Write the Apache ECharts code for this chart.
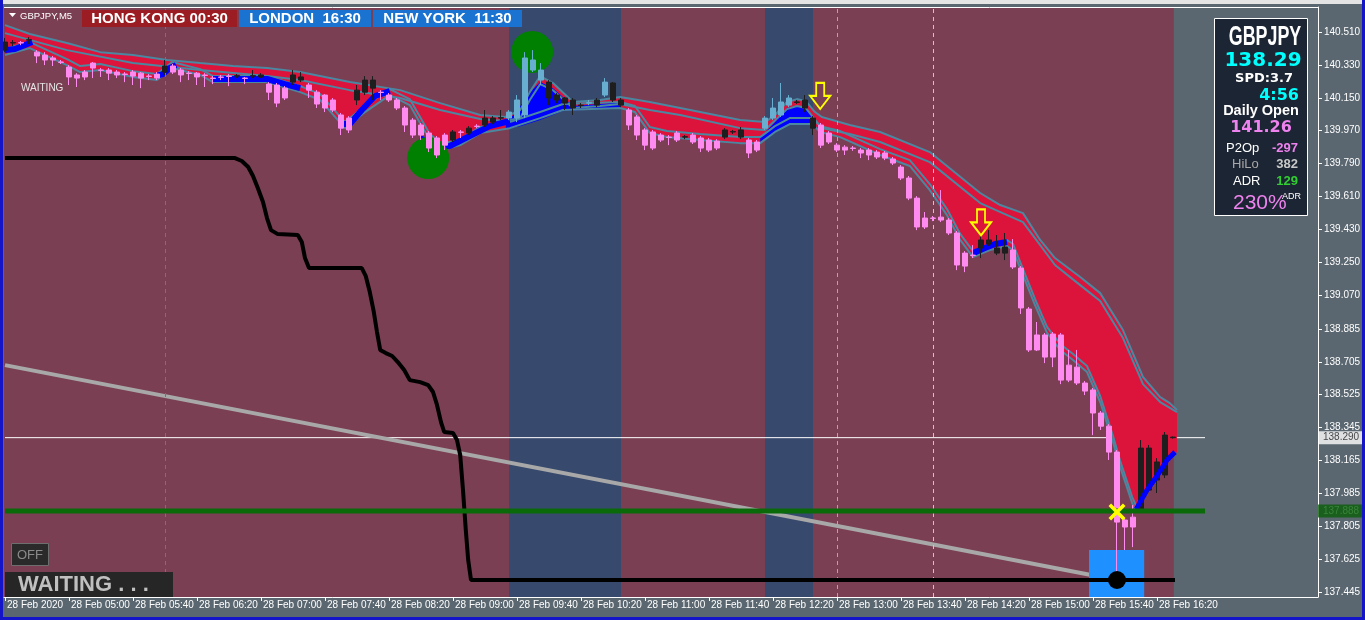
<!DOCTYPE html>
<html><head><meta charset="utf-8">
<script src="https://cdn.jsdelivr.net/npm/echarts@6/dist/echarts.min.js"></script>
<style>html,body{margin:0;padding:0;background:#5B6770;overflow:hidden}#c{width:1365px;height:620px}</style>
</head><body><div id="c"></div>
<script>
// ---------- DATA (x = bar index of 5-minute bars starting 28 Feb 04:20, y = price) ----------
const xTickBars = [0,8,16,24,32,40,48,56,64,72,80,88,96,104,112,120,128,136,144];
const xTickLabels = ['28 Feb 2020','28 Feb 05:00','28 Feb 05:40','28 Feb 06:20','28 Feb 07:00','28 Feb 07:40','28 Feb 08:20','28 Feb 09:00','28 Feb 09:40','28 Feb 10:20','28 Feb 11:00','28 Feb 11:40','28 Feb 12:20','28 Feb 13:00','28 Feb 13:40','28 Feb 14:20','28 Feb 15:00','28 Feb 15:40','28 Feb 16:20'];
const yTickValues = [140.510,140.330,140.150,139.970,139.790,139.610,139.430,139.250,139.070,138.885,138.705,138.525,138.345,138.165,137.985,137.805,137.625,137.445];

// [bar, open, close, low, high]
const candles = [
[0,140.411,140.455,140.400,140.477],[1,140.450,140.452,140.433,140.466],[2,140.452,140.450,140.438,140.461],[3,140.466,140.468,140.444,140.482],
[4,140.400,140.379,140.340,140.411],[5,140.384,140.357,140.329,140.400],[6,140.368,140.357,140.324,140.379],[7,140.346,140.344,140.335,140.357],
[8,140.318,140.264,140.220,140.329],[9,140.275,140.258,140.209,140.285],[10,140.291,140.264,140.247,140.302],[11,140.340,140.313,140.258,140.346],
[12,140.302,140.300,140.264,140.313],[13,140.302,140.285,140.247,140.313],[14,140.291,140.275,140.258,140.302],[15,140.280,140.278,140.236,140.291],
[16,140.291,140.269,140.220,140.302],[17,140.285,140.258,140.203,140.291],[18,140.269,140.267,140.247,140.280],[19,140.280,140.258,140.247,140.291],
[20,140.291,140.324,140.275,140.357],[21,140.324,140.291,140.280,140.335],[22,140.302,140.275,140.236,140.313],[23,140.285,140.283,140.247,140.296],
[24,140.285,140.264,140.220,140.291],[25,140.275,140.272,140.209,140.285],[26,140.258,140.256,140.225,140.269],[27,140.264,140.262,140.247,140.275],
[28,140.269,140.267,140.214,140.280],[29,140.269,140.271,140.258,140.280],[30,140.258,140.256,140.225,140.264],[31,140.269,140.271,140.258,140.302],
[32,140.264,140.275,140.258,140.285],[33,140.225,140.181,140.138,140.236],[34,140.220,140.121,140.099,140.231],[35,140.203,140.149,140.138,140.214],
[36,140.236,140.275,140.220,140.302],[37,140.247,140.264,140.236,140.291],[38,140.220,140.192,140.149,140.231],[39,140.181,140.116,140.094,140.192],
[40,140.165,140.094,140.072,140.170],[41,140.138,140.083,140.072,140.149],[42,140.056,139.984,139.946,140.067],[43,140.039,139.974,139.957,140.050],
[44,140.138,140.192,140.110,140.220],[45,140.181,140.247,140.165,140.269],[46,140.203,140.247,140.138,140.269],[47,140.181,140.179,140.138,140.192],
[48,140.165,140.138,140.127,140.176],[49,140.138,140.094,140.083,140.149],[50,140.094,140.001,139.963,140.105],[51,140.028,139.946,139.930,140.039],
[52,140.001,139.946,139.919,140.012],[53,139.957,139.875,139.853,139.968],[54,139.930,139.837,139.820,139.941],[55,139.946,139.891,139.864,139.957],
[56,139.919,139.963,139.908,139.974],[57,139.963,139.961,139.930,139.974],[58,139.957,139.984,139.946,139.995],[59,139.995,139.993,139.984,140.006],
[60,140.001,140.039,139.990,140.083],[61,140.017,140.039,140.006,140.050],[62,140.039,140.041,140.028,140.083],[63,140.039,140.072,140.028,140.083],
[64,140.039,140.138,140.017,140.165],[65,140.056,140.368,140.039,140.400],[66,140.302,140.357,140.291,140.411],[67,140.247,140.302,140.220,140.340],
[68,140.236,140.149,140.110,140.247],[69,140.165,140.138,140.121,140.176],[70,140.149,140.121,140.083,140.154],[71,140.138,140.094,140.056,140.149],
[72,140.110,140.108,140.094,140.121],[73,140.121,140.123,140.110,140.138],[74,140.138,140.110,140.099,140.149],[75,140.165,140.236,140.154,140.258],
[76,140.231,140.138,140.127,140.236],[77,140.138,140.110,140.099,140.149],[78,140.083,140.001,139.974,140.094],[79,140.045,139.946,139.919,140.056],
[80,139.974,139.891,139.864,139.984],[81,139.963,139.875,139.864,139.974],[82,139.946,139.919,139.908,139.957],[83,139.935,139.933,139.891,139.946],
[84,139.957,139.919,139.908,139.968],[85,139.935,139.937,139.924,139.946],[86,139.946,139.908,139.897,139.957],[87,139.930,139.875,139.853,139.941],
[88,139.919,139.864,139.853,139.930],[89,139.913,139.875,139.864,139.924],[90,139.935,139.974,139.924,139.984],[91,139.963,139.965,139.952,139.974],
[92,139.935,139.974,139.924,139.990],[93,139.919,139.848,139.820,139.930],[94,139.908,139.864,139.853,139.919],[95,139.984,140.039,139.974,140.050],
[96,140.039,140.094,140.028,140.149],[97,140.056,140.127,140.045,140.231],[98,140.110,140.149,140.099,140.165],[99,140.127,140.125,140.116,140.138],
[100,140.138,140.094,140.072,140.165],[101,140.039,139.984,139.946,140.050],[102,140.001,139.891,139.875,140.012],[103,139.957,139.908,139.897,139.968],
[104,139.891,139.864,139.853,139.902],[105,139.880,139.864,139.837,139.891],[106,139.875,139.873,139.860,139.886],[107,139.864,139.848,139.820,139.875],
[108,139.864,139.837,139.809,139.875],[109,139.853,139.826,139.815,139.864],[110,139.848,139.820,139.809,139.859],[111,139.815,139.793,139.782,139.826],
[112,139.771,139.711,139.700,139.782],[113,139.711,139.601,139.590,139.722],[114,139.601,139.443,139.426,139.612],[115,139.492,139.443,139.432,139.525],
[116,139.492,139.490,139.475,139.503],[117,139.497,139.481,139.470,139.645],[118,139.481,139.410,139.399,139.492],[119,139.410,139.235,139.207,139.421],
[120,139.300,139.229,139.196,139.311],[121,139.289,139.287,139.273,139.344],[122,139.328,139.372,139.273,139.399],[123,139.350,139.372,139.339,139.426],
[124,139.300,139.328,139.289,139.399],[125,139.300,139.333,139.262,139.410],[126,139.317,139.224,139.213,139.377],[127,139.218,139.000,138.967,139.229],
[128,138.994,138.770,138.759,139.005],[129,138.852,138.770,138.764,138.923],[130,138.852,138.731,138.698,138.863],[131,138.857,138.731,138.676,138.868],
[132,138.852,138.605,138.583,138.863],[133,138.687,138.605,138.594,138.770],[134,138.676,138.589,138.578,138.770],[135,138.589,138.545,138.523,138.600],
[136,138.551,138.425,138.304,138.562],[137,138.425,138.353,138.332,138.436],[138,138.353,138.211,138.168,138.364],[139,138.211,137.828,137.530,138.222],
[140,137.839,137.801,137.675,137.850],[141,137.855,137.801,137.691,137.921],[142,137.894,138.233,137.883,138.277],[143,138.003,138.233,137.992,138.250],
[144,138.058,138.157,137.987,138.178],[145,138.086,138.304,138.069,138.321],[146,138.290,138.293,138.285,138.296]
];

// session boxes (bar ranges)
const maroonSession = [-0.125, 146.1];
const blueSessions = [[63, 77], [95, 101]];

// cloud: top steel line, second steel line, lower pair and final fast line
const cloudTop = [[0,140.548],[3.1,140.499],[7.75,140.450],[11.9,140.400],[16,140.384],[20.25,140.357],[24.4,140.340],[28.5,140.324],[32.75,140.313],[36.9,140.291],[43.1,140.236],[49.4,140.192],[54.4,140.121],[59.4,140.056],[62.5,140.045],[64.4,140.083],[65.6,140.181],[66.9,140.269],[68.5,140.231],[71,140.127],[74.4,140.138],[76.9,140.154],[80.6,140.127],[84.4,140.094],[91.9,140.028],[95,140.017],[96.25,140.056],[97.75,140.127],[99,140.143],[100.1,140.132],[101.25,140.072],[102.1,140.045],[105.6,140.001],[109.4,139.963],[115.6,139.853],[121.9,139.629],[124.4,139.563],[127.25,139.519],[129.4,139.372],[131.25,139.273],[134.4,139.169],[136.9,139.081],[139.75,138.879],[142.25,138.622],[144.4,138.512],[145.6,138.479],[146.5,138.441]];
const cloudTop2 = [[0,140.504],[7.75,140.411],[16,140.340],[24.4,140.302],[32.75,140.269],[36.9,140.247],[43.1,140.192],[49.4,140.149],[54.4,140.083],[59.4,140.034],[62.5,140.023],[64.4,140.039],[65.6,140.138],[66.9,140.225],[68.5,140.192],[71,140.094],[74.4,140.105],[76.9,140.116],[80.6,140.083],[84.4,140.056],[91.9,139.984],[95,139.974],[97.75,140.088],[99,140.105],[100.1,140.094],[102.1,139.984],[105.6,139.952],[109.4,139.908],[115.6,139.798],[121.9,139.574],[127.25,139.470],[131.25,139.235],[134.4,139.125],[136.9,139.038],[139.75,138.835],[142.25,138.583],[144.4,138.485],[146.5,138.430]];
const cloudLow1 = [[0,140.417],[3.1,140.455],[7.75,140.362],[9.4,140.324],[11.9,140.335],[16,140.296],[19,140.280],[20.9,140.346],[24.4,140.307],[26,140.269],[32.75,140.269],[36.9,140.214],[39.4,140.170],[42.5,140.017],[45,140.105],[48.1,140.198],[50.6,140.143],[53.1,139.952],[54.6,139.897],[56.9,139.924],[59.4,139.990],[63.1,140.017],[66.9,140.072],[69.75,140.116],[76.9,140.127],[78.75,140.105],[80.6,139.990],[82.75,139.968],[86.9,139.952],[91.9,139.935],[94.4,139.935],[96.25,139.995],[98.1,140.039],[100.9,140.039],[101.9,139.995],[104.4,139.968],[109.4,139.869],[113.1,139.809],[115.6,139.678],[117.75,139.541],[119.4,139.405],[121,139.311],[123.1,139.350],[125.25,139.372],[126,139.350],[127.25,139.213],[128.75,139.049],[130.25,138.896],[131.9,138.803],[133.5,138.748],[135.25,138.682],[136.9,138.518],[138.5,138.299],[139.4,138.162],[140.9,137.965],[141.4,137.916]];
const cloudLow2 = [[0,140.384],[3.1,140.422],[7.75,140.329],[9.4,140.291],[11.9,140.302],[16,140.264],[19,140.247],[20.9,140.313],[24.4,140.275],[26,140.236],[32.75,140.236],[36.9,140.181],[39.4,140.138],[42.5,139.984],[45,140.072],[48.1,140.165],[50.6,140.110],[53.1,139.919],[54.6,139.864],[56.9,139.891],[59.4,139.957],[63.1,139.984],[66.9,140.039],[69.75,140.083],[76.9,140.094],[78.75,140.072],[80.6,139.957],[82.75,139.935],[86.9,139.919],[91.9,139.902],[94.4,139.902],[96.25,139.963],[98.1,140.006],[100.9,140.006],[101.9,139.963],[104.4,139.935],[109.4,139.837],[113.1,139.777],[115.6,139.645],[117.75,139.508],[119.4,139.372],[121,139.278],[123.1,139.317],[125.25,139.339],[126,139.317],[127.25,139.180],[128.75,139.016],[130.25,138.863],[131.9,138.770],[133.5,138.715],[135.25,138.649],[136.9,138.485],[138.5,138.266],[139.4,138.129],[140.9,137.932],[141.4,137.883]];
const fastTail = [[141.4,137.883],[142.75,137.992],[144,138.064],[145.25,138.157],[146.5,138.211]];

// blue (bullish) fast-band pieces
const blueBands = [
  [[0,140.411],[1.25,140.417],[2.5,140.439],[3.4,140.455]],
  [[18.75,140.269],[19.75,140.280],[20.6,140.313],[21.4,140.329]],
  [[26,140.253],[32.75,140.253],[35,140.225],[36.9,140.203]],
  [[41.9,140.006],[43.1,140.006],[44.6,140.083],[46.25,140.160],[48.1,140.187]],
  [[51.9,139.930],[53.75,139.880],[55.6,139.886],[58.1,139.941],[60.6,139.995],[63.1,140.023]],
  [[121,139.300],[122.5,139.328],[123.75,139.350],[125.25,139.361]]
];
const blueTail = [[141.4,137.899],[142.75,138.003],[144,138.080],[145.25,138.168],[146.25,138.211]];
const blueZone1Top = [[62.6,140.028],[63.6,140.056],[64.6,140.116],[65.6,140.181],[66.9,140.236],[68.5,140.203],[71,140.105],[74.4,140.116],[76.9,140.127]];
const blueZone1Bot = [[62.6,139.979],[64.4,139.995],[66.9,140.028],[69.75,140.078],[76.9,140.094]];
const blueZone2Top = [[94.4,139.930],[96.25,140.017],[97.75,140.094],[99,140.105],[100.1,140.094],[101.1,140.039]];
const blueZone2Bot = [[94.4,139.908],[96.25,139.963],[98.1,140.006],[101.1,140.006]];

// other indicator lines
const stepLine = [[0,139.820],[28.75,139.820],[29.6,139.804],[30.4,139.771],[31,139.722],[31.6,139.656],[32.25,139.580],[32.75,139.492],[33.25,139.426],[34.1,139.404],[36.6,139.399],[37.1,139.361],[37.5,139.273],[38,139.218],[44.6,139.218],[45.1,139.174],[45.6,139.087],[46.1,138.978],[46.5,138.868],[46.9,138.770],[47.6,138.753],[48.4,138.737],[49.1,138.704],[49.9,138.660],[50.6,138.605],[51.9,138.594],[52.9,138.578],[53.5,138.540],[54,138.469],[54.5,138.375],[54.9,138.321],[56,138.315],[56.5,138.277],[56.9,138.195],[57.25,138.003],[57.6,137.784],[57.9,137.620],[58.25,137.511],[146.25,137.511]];
const grayTrend = [[0,138.687],[139,137.511]];
const bidPrice = 138.290;
const greenLevel = 137.888;
const levelEndBar = 150;
const verticalMarks = [20, 104, 116];
const greenCircles = [[65.9,140.401],[52.9,139.820]];
const sellArrows = [[101.9,140.160],[122,139.468]];
const crossMark = [[139,137.883]];
const signalDot = [[139,137.511]];
const signalBox = [135.5, 142.4, 137.418, 137.675];

// ---------- CHART ----------
const Y_MIN = 137.418, Y_MAX = 140.647;
const chart = echarts.init(document.getElementById('c'));
const FONT = "'Liberation Sans', Arial, sans-serif";

function isBlueBar(b){ return blueSessions.some(s => b >= s[0] && b <= s[1]); }
const candleItems = candles.map(d => {
  const bull = d[2] >= d[1];
  const col = isBlueBar(d[0]) ? (bull ? '#68AED0' : '#1E1E1E') : (bull ? '#1E1E1E' : '#FF8AF0');
  return {value: d, itemStyle: {color: col, color0: col, borderColor: col, borderColor0: col, borderWidth: 1}};
});

function polygonSeries(top, bottom, color, z) {
  return {
    type: 'custom', z, silent: true, clip: true,
    data: [[top[0][0], top[0][1]]], encode: {x: 0, y: 1},
    renderItem: function (params, api) {
      const pts = top.concat(bottom.slice().reverse()).map(p => api.coord(p));
      return {type: 'polygon', shape: {points: pts}, style: {fill: color}};
    }
  };
}
function lineSeries(data, color, width, z, extra) {
  return Object.assign({type: 'line', data, z, silent: true, showSymbol: false, symbol: 'none',
    lineStyle: {color, width}, clip: true}, extra || {});
}

const series = [
  {type: 'line', data: [], z: 1, silent: true,
   markArea: {silent: true, data: [
     [{xAxis: maroonSession[0], itemStyle: {color: '#7A3F52'}}, {xAxis: maroonSession[1]}],
     [{xAxis: blueSessions[0][0], itemStyle: {color: '#37496C'}}, {xAxis: blueSessions[0][1]}],
     [{xAxis: blueSessions[1][0], itemStyle: {color: '#37496C'}}, {xAxis: blueSessions[1][1]}]
   ]}},
  lineSeries([[0, bidPrice], [levelEndBar, bidPrice]], '#FFFFFF', 1, 2),
  lineSeries(grayTrend, '#A8A8A8', 4, 2),
  polygonSeries(cloudTop, cloudLow2.concat(fastTail.slice(1)), '#DC143C', 3),
  polygonSeries(blueZone1Top, blueZone1Bot, '#0000FF', 4),
  polygonSeries(blueZone2Top, blueZone2Bot, '#0000FF', 4),
  lineSeries(cloudTop, '#4B87A0', 2, 5),
  lineSeries(cloudTop2, '#4B87A0', 2, 5),
  lineSeries(cloudLow1, '#4B87A0', 2, 5),
  lineSeries(cloudLow2, '#4B87A0', 2, 5),
  ...blueBands.map(b => lineSeries(b, '#0000FF', 6, 5)),
  {type: 'line', data: [], z: 6, silent: true,
   markLine: {silent: true, symbol: 'none', z: 6, label: {show: false}, data: [
     {xAxis: verticalMarks[0], lineStyle: {color: '#2FA52F', type: [4, 4], width: 1}},
     {xAxis: verticalMarks[1], lineStyle: {color: '#E0A04A', type: [4, 4], width: 1}},
     {xAxis: verticalMarks[2], lineStyle: {color: '#E6B4D8', type: [4, 4], width: 1}}
   ]}},
  {type: 'scatter', data: greenCircles, z: 6, silent: true, symbol: 'circle', symbolSize: 42, itemStyle: {color: '#008000', opacity: 1}},
  {type: 'custom', z: 6, silent: true, clip: true, data: [[signalBox[0], signalBox[3]]], encode: {x: 0, y: 1},
   renderItem: function (params, api) {
     const a = api.coord([signalBox[0], signalBox[3]]), b = api.coord([signalBox[1], signalBox[2]]);
     return {type: 'rect', shape: {x: a[0], y: a[1], width: b[0] - a[0], height: b[1] - a[1]}, style: {fill: '#1E90FF'}};
   }},
  lineSeries(stepLine, '#000000', 4, 7),
  {type: 'candlestick', z: 8, silent: true, barWidth: 6, clip: true, data: candleItems},
  lineSeries(blueTail, '#0000FF', 5, 9),
  lineSeries([[0, greenLevel], [levelEndBar, greenLevel]], '#0A6A0A', 5, 10),
  {type: 'scatter', data: sellArrows, z: 11, silent: true,
   symbol: 'path://M6,0 L14,0 L14,13 L20,13 L10,26 L0,13 L6,13 Z', symbolSize: [20, 26],
   itemStyle: {color: 'rgba(0,0,0,0)', borderColor: '#FFFF00', borderWidth: 2, opacity: 1}},
  {type: 'scatter', data: crossMark, z: 11, silent: true,
   symbol: 'path://M0,3 L3,0 L10,7 L17,0 L20,3 L13,10 L20,17 L17,20 L10,13 L3,20 L0,17 L7,10 Z', symbolSize: 17,
   itemStyle: {color: '#FFFF00', opacity: 1}},
  {type: 'scatter', data: signalDot, z: 11, silent: true, symbol: 'circle', symbolSize: 18, itemStyle: {color: '#000000', opacity: 1}},
  {type: 'scatter', z: 12, silent: true, clip: false, symbolSize: 0, data: [[164.125, bidPrice]],
   label: {show: true, position: 'right', distance: 1, formatter: () => bidPrice.toFixed(3), backgroundColor: '#FFFFFF',
     color: '#1a1a1a', fontFamily: FONT, fontSize: 10, padding: [2, 5, 1, 4]}},
  {type: 'scatter', z: 12, silent: true, clip: false, symbolSize: 0, data: [[164.125, greenLevel]],
   label: {show: true, position: 'right', distance: 0, formatter: () => greenLevel.toFixed(3), backgroundColor: '#0B5E0B',
     color: '#3F8F3F', fontFamily: FONT, fontSize: 10, padding: [2, 5, 1, 5]}}
];

function txt(text, x, y, font, fill, align, extra) {
  return Object.assign({type: 'text', z: 100, silent: true, style: {text, x, y, font, fill, textAlign: align || 'left', textVerticalAlign: 'middle'}}, extra || {});
}
function box(x, y, w, h, fill, stroke) {
  return {type: 'rect', z: 99, silent: true, shape: {x, y, width: w, height: h},
    style: stroke ? {fill, stroke, lineWidth: 1} : {fill}};
}

const graphic = [
  box(0, 0, 1365, 4, '#E4E4E4'),
  {type: 'line', z: 99, silent: true, shape: {x1: 4, y1: 7.5, x2: 1318, y2: 7.5}, style: {stroke: '#FFFFFF', lineWidth: 1}},
  box(0, 0, 3, 620, '#1414C8'), box(1362, 0, 3, 620, '#1414C8'), box(0, 617, 1365, 3, '#1414C8'),
  {type: 'polygon', z: 100, silent: true, shape: {points: [[9, 13], [16, 13], [12.5, 17]]}, style: {fill: '#FFFFFF'}},
  txt('GBPJPY,M5', 20, 16, "9.5px " + FONT, '#FFFFFF'),
  box(82, 10, 155, 17, '#9B1C22'), txt('HONG KONG 00:30', 159.5, 18.5, "bold 15px " + FONT, '#FFFFFF', 'center'),
  box(239, 10, 132, 17, '#1A73D0'), txt('LONDON  16:30', 305, 18.5, "bold 15px " + FONT, '#FFFFFF', 'center'),
  box(373, 10, 149, 17, '#1A73D0'), txt('NEW YORK  11:30', 447.5, 18.5, "bold 15px " + FONT, '#FFFFFF', 'center'),
  txt('WAITING', 21, 88, "10px " + FONT, '#E6E6E6'),
  box(11.5, 543.5, 37, 22, '#2A2A2A', '#6E6E6E'), txt('OFF', 30, 555, "13px " + FONT, '#8A8A8A', 'center'),
  box(5, 572, 168, 25, '#262626'), txt('WAITING . . .', 18, 585, "bold 22px " + FONT, '#C0C0C0'),
  // info panel
  box(1214.5, 18.5, 93, 197, '#1C2533', '#FFFFFF'),
  {type: 'text', z: 100, silent: true, x: 1265, y: 38, scaleX: 0.66,
   style: {text: 'GBPJPY', x: 0, y: 0, font: "bold 27px " + FONT, fill: '#FFFFFF', textAlign: 'center', textVerticalAlign: 'middle'}},
  txt('138.29', 1263, 61, "bold 20px 'DejaVu Sans',sans-serif", '#00FFFF', 'center'),
  txt('SPD:3.7', 1264, 79, "bold 13px 'DejaVu Sans',sans-serif", '#FFFFFF', 'center'),
  txt('4:56', 1299, 96, "bold 16px 'DejaVu Sans',sans-serif", '#00FFFF', 'right'),
  txt('Daily Open', 1261, 110.5, "bold 14.5px " + FONT, '#FFFFFF', 'center'),
  txt('141.26', 1261, 128, "bold 16px 'DejaVu Sans',sans-serif", '#EE82EE', 'center'),
  txt('P2Op', 1226, 148, "13px " + FONT, '#FFFFFF'),
  txt('-297', 1298, 148, "bold 13px " + FONT, '#EE82EE', 'right'),
  txt('HiLo', 1232, 164.5, "13px " + FONT, '#A8A8A8'),
  txt('382', 1298, 164.5, "bold 13px " + FONT, '#C8C8C8', 'right'),
  txt('ADR', 1233, 181, "13px " + FONT, '#FFFFFF'),
  txt('129', 1298, 181, "bold 13px " + FONT, '#32CD32', 'right'),
  txt('230%', 1233, 203, "21px " + FONT, '#EE82EE'),
  txt('ADR', 1282, 197, "9px " + FONT, '#FFFFFF')
];

chart.setOption({
  animation: false,
  backgroundColor: '#5B6770',
  grid: {left: 4, right: 47, top: 7, bottom: 23, containLabel: false, outerBoundsMode: 'none', show: false},
  xAxis: {
    type: 'value', min: -0.125, max: 164.125,
    axisLine: {show: true, onZero: false, lineStyle: {color: '#FFFFFF', width: 1}},
    axisTick: {show: true, customValues: xTickBars, length: 4, lineStyle: {color: '#FFFFFF'}},
    axisLabel: {show: true, customValues: xTickBars, formatter: v => xTickLabels[xTickBars.indexOf(Math.round(v))] || '',
      color: '#FFFFFF', fontFamily: FONT, fontSize: 10, align: 'left', margin: 3, padding: [0, 0, 0, 2], hideOverlap: false},
    splitLine: {show: false}
  },
  yAxis: {
    type: 'value', position: 'right', min: Y_MIN, max: Y_MAX, scale: true,
    axisLine: {show: true, onZero: false, lineStyle: {color: '#FFFFFF', width: 1}},
    axisTick: {show: true, customValues: yTickValues, length: 4, lineStyle: {color: '#FFFFFF'}},
    axisLabel: {show: true, customValues: yTickValues, formatter: v => v.toFixed(3),
      color: '#FFFFFF', fontFamily: FONT, fontSize: 10, margin: 6},
    splitLine: {show: false}
  },
  series,
  graphic
});
</script>
</body></html>
